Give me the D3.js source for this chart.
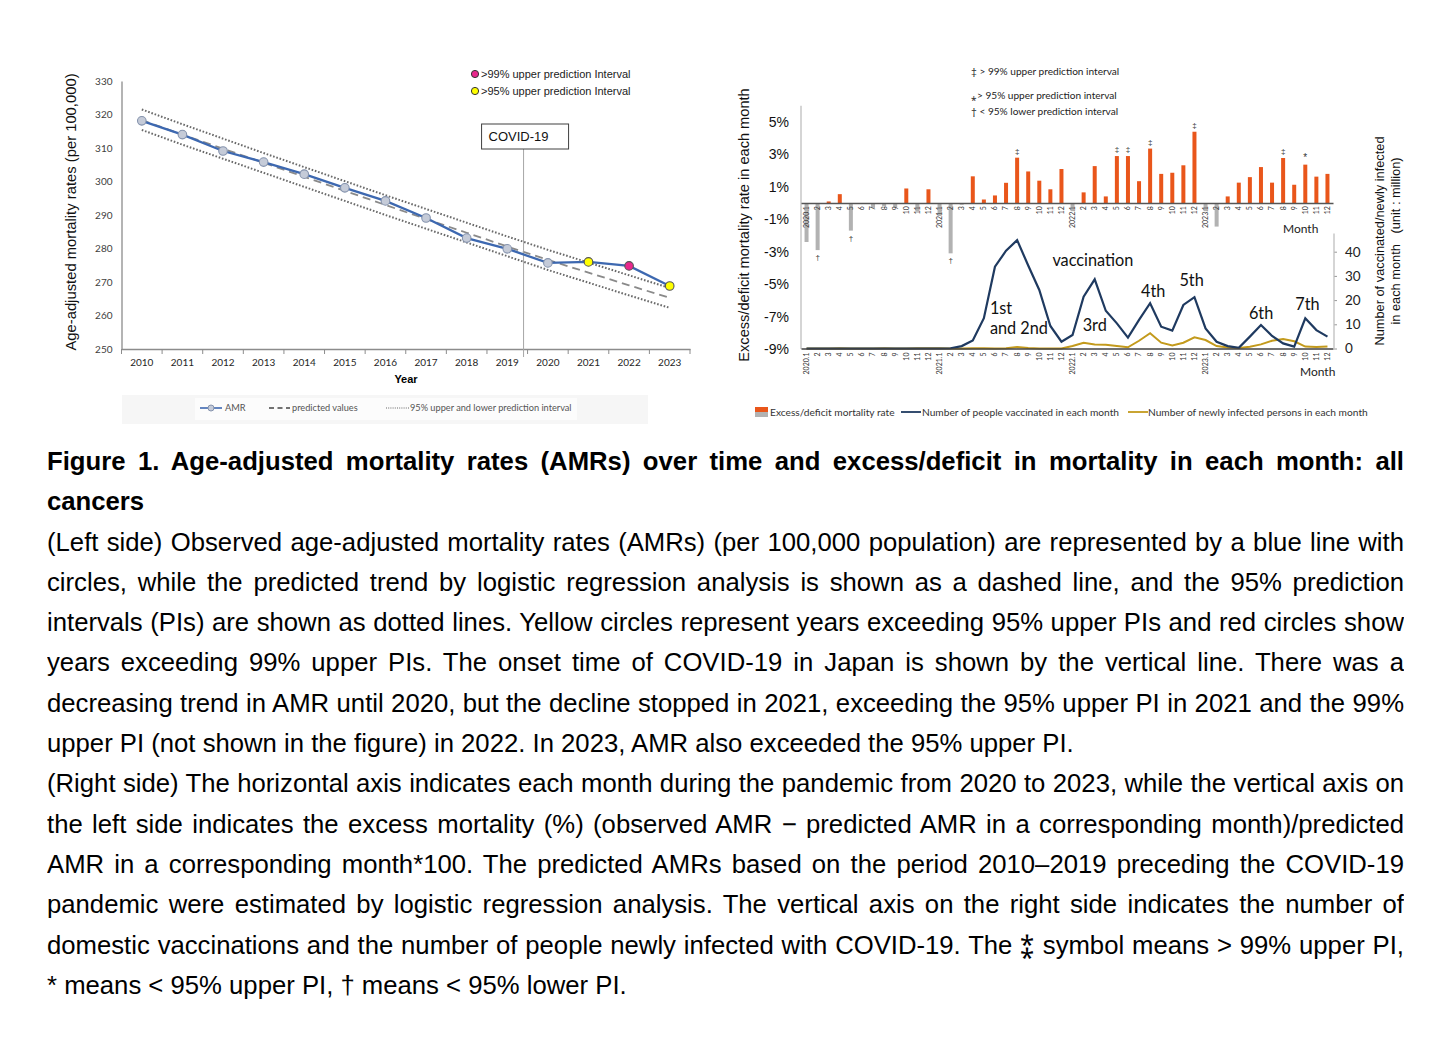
<!DOCTYPE html>
<html>
<head>
<meta charset="utf-8">
<script src="https://cdn.jsdelivr.net/npm/d3@7"></script>
<style>
body { margin: 0; background: #fff; width: 1456px; height: 1062px; overflow: hidden; position: relative; font-family: "Liberation Sans", Arial, sans-serif; }
#fig { position: absolute; left: 0; top: 0; }
#caption { position: absolute; left: 47px; top: 441px; width: 1357px; color: #000; }
#caption div { height: 40.3px; line-height: 40.3px; font-size: 25.7px; white-space: nowrap; overflow: hidden; }
#caption div.j { text-align: justify; text-align-last: justify; white-space: normal; }
#caption div.b { font-weight: bold; }
</style>
</head>
<body>
<div id="fig"></div>
<div id="caption"></div>
<script>
// ---------- left chart data ----------
const years = ['2010', '2011', '2012', '2013', '2014', '2015', '2016', '2017', '2018', '2019', '2020', '2021', '2022', '2023'];
const amr = [318.1, 314.0, 309.1, 305.8, 302.2, 298.1, 294.2, 289.1, 283.1, 279.9, 275.7, 276.0, 274.8, 268.8];
const amrFlag = ['', '', '', '', '', '', '', '', '', '', '', '95', '99', '95'];
const predicted = [318.3, 314.0, 309.8, 305.6, 301.4, 297.2, 293.0, 288.8, 284.7, 280.6, 276.6, 272.8, 269.0, 265.3];
const upperPI = [321.5, 317.1, 312.8, 308.5, 304.3, 300.1, 295.9, 291.8, 287.7, 283.6, 279.6, 275.8, 272.0, 268.2];
const lowerPI = [315.4, 311.0, 306.8, 302.6, 298.4, 294.2, 290.0, 285.9, 281.8, 277.7, 273.6, 269.8, 266.0, 262.3];
const amrTicks = [250, 260, 270, 280, 290, 300, 310, 320, 330];

// ---------- right chart data ----------
const calYears = ['2020', '2021', '2022', '2023'];
const monthNums = [1, 2, 3, 4, 5, 6, 7, 8, 9, 10, 11, 12];
const excess = [
  -2.4, -2.9, 0.1, 0.55, -1.7, -0.05, -0.3, -0.2, -0.3, 0.9, -0.5, 0.85,
  -0.8, -3.1, -0.1, 1.65, 0.22, 0.47, 1.25, 2.8, 1.95, 1.38, 0.85, 2.1,
  -0.5, 0.66, 2.28, 0.41, 2.9, 2.9, 1.35, 3.36, 1.8, 1.87, 2.33, 4.4,
  -0.5, -1.45, 0.41, 1.26, 1.6, 2.22, 1.26, 2.78, 1.13, 2.37, 1.63, 1.8
];
const vaccinated = [
  0, 0, 0, 0, 0, 0, 0, 0, 0, 0, 0, 0,
  0, 0.1, 1.0, 3.3, 12.5, 33.8, 40.4, 44.8, 34.3, 24.2, 9.3, 2.8,
  5.6, 21.4, 28.6, 15.6, 10.4, 4.5, 11.8, 18.7, 9.0, 7.4, 18.0, 21.2,
  8.3, 2.8, 1.0, 0.3, 4.9, 9.7, 5.2, 2.1, 0.8, 12.5, 7.6, 4.9
];
const infected = [
  0, 0, 0, 0.1, 0.05, 0, 0.05, 0.1, 0.05, 0.05, 0.1, 0.1,
  0.15, 0.05, 0.05, 0.1, 0.15, 0.05, 0.15, 0.6, 0.25, 0.02, 0.01, 0.02,
  1.0, 2.4, 1.7, 1.5, 1.0, 0.5, 3.2, 6.3, 2.4, 1.3, 2.4, 4.6,
  3.5, 1.0, 0.4, 0.2, 0.7, 1.7, 3.2, 3.9, 3.0, 0.8, 0.6, 0.8
];
const pctTicks = [5, 3, 1, -1, -3, -5, -7, -9];
const millionTicks = [0, 10, 20, 30, 40];
const marks = [
  { m: '2020.2', s: '†' }, { m: '2020.5', s: '†' }, { m: '2021.2', s: '†' },
  { m: '2021.8', s: '‡' }, { m: '2022.5', s: '‡' }, { m: '2022.6', s: '‡' },
  { m: '2022.8', s: '‡' }, { m: '2022.12', s: '‡' }, { m: '2023.8', s: '‡' },
  { m: '2023.10', s: '*' }
];
const doseLabels = [
  { t: 'vaccination', m: '2021.11', v: 36.6, dx: 2 },
  { t: '1st', m: '2021.5', v: 16.7, dx: 6 },
  { t: 'and 2nd', m: '2021.5', v: 8.5, dx: 6 },
  { t: '3rd', m: '2022.2', v: 9.7, dx: -1 },
  { t: '4th', m: '2022.7', v: 23.8, dx: 2 },
  { t: '5th', m: '2022.11', v: 28.3, dx: -4 },
  { t: '6th', m: '2023.5', v: 14.7, dx: -1 },
  { t: '7th', m: '2023.9', v: 18.4, dx: 1 }
];

const captionLines = [
  ['b j', 'Figure 1. Age-adjusted mortality rates (AMRs) over time and excess/deficit in mortality in each month: all'],
  ['b', 'cancers'],
  ['j', '(Left side) Observed age-adjusted mortality rates (AMRs) (per 100,000 population) are represented by a blue line with'],
  ['j', 'circles, while the predicted trend by logistic regression analysis is shown as a dashed line, and the 95% prediction'],
  ['j', 'intervals (PIs) are shown as dotted lines. Yellow circles represent years exceeding 95% upper PIs and red circles show'],
  ['j', 'years exceeding 99% upper PIs. The onset time of COVID-19 in Japan is shown by the vertical line. There was a'],
  ['j', 'decreasing trend in AMR until 2020, but the decline stopped in 2021, exceeding the 95% upper PI in 2021 and the 99%'],
  ['', 'upper PI (not shown in the figure) in 2022. In 2023, AMR also exceeded the 95% upper PI.'],
  ['j', '(Right side) The horizontal axis indicates each month during the pandemic from 2020 to 2023, while the vertical axis on'],
  ['j', 'the left side indicates the excess mortality (%) (observed AMR − predicted AMR in a corresponding month)/predicted'],
  ['j', 'AMR in a corresponding month*100. The predicted AMRs based on the period 2010–2019 preceding the COVID-19'],
  ['j', 'pandemic were estimated by logistic regression analysis. The vertical axis on the right side indicates the number of'],
  ['j', 'domestic vaccinations and the number of people newly infected with COVID-19. The ⁑ symbol means > 99% upper PI,'],
  ['', '* means < 95% upper PI, † means < 95% lower PI.']
];

const calibri = 'Lato, "Open Sans", sans-serif';
const arial = '"Liberation Sans", Arial, sans-serif';

const svg = d3.select('#fig').append('svg')
  .attr('width', 1456)
  .attr('height', 440);

// ================= LEFT CHART =================
const xL = d3.scaleBand().domain(years).range([121.5, 690]);
const yL = d3.scaleLinear().domain([250, 330]).range([349, 81]);
const cx = d => xL(d) + xL.bandwidth() / 2;

const gyL = svg.append('g')
  .attr('transform', 'translate(121.5,0)')
  .call(d3.axisLeft(yL).tickValues(amrTicks).tickSize(0).tickPadding(9));
gyL.select('.domain').attr('stroke', '#8c8c8c').attr('stroke-width', 1.3);
gyL.selectAll('text').attr('font-family', calibri).attr('font-size', 10).attr('fill', '#404040');

const gxL = svg.append('g')
  .attr('transform', 'translate(0,349)')
  .call(d3.axisBottom(xL).tickSize(0).tickPadding(10));
gxL.select('.domain').attr('stroke', '#8c8c8c').attr('stroke-width', 1.5);
gxL.selectAll('text').attr('font-family', calibri).attr('font-size', 10).attr('fill', '#262626');
// tick marks on band boundaries
gxL.selectAll('.bound')
  .data(years.concat(['end']))
  .enter().append('line')
  .attr('x1', d => d === 'end' ? xL.range()[1] : xL(d))
  .attr('x2', d => d === 'end' ? xL.range()[1] : xL(d))
  .attr('y1', 0).attr('y2', 5)
  .attr('stroke', '#8c8c8c');

// y title
svg.append('text')
  .attr('transform', 'translate(76,212) rotate(-90)')
  .attr('text-anchor', 'middle')
  .attr('font-family', arial).attr('font-size', 14.8).attr('fill', '#111')
  .text('Age-adjusted mortality rates (per 100,000)');
svg.append('text')
  .attr('x', 406).attr('y', 383)
  .attr('text-anchor', 'middle')
  .attr('font-family', arial).attr('font-weight', 'bold').attr('font-size', 11)
  .text('Year');

// prediction interval & predicted lines
const lineL = arr => d3.line().x((d, i) => cx(years[i])).y(d => yL(d))(arr);
[upperPI, lowerPI].forEach(arr => {
  svg.append('path').attr('d', lineL(arr))
    .attr('fill', 'none').attr('stroke', '#6a6a6a')
    .attr('stroke-width', 2).attr('stroke-dasharray', '1.6,1.8');
});
svg.append('path').attr('d', lineL(predicted))
  .attr('fill', 'none').attr('stroke', '#8a8a8a')
  .attr('stroke-width', 1.8).attr('stroke-dasharray', '8,5');

// COVID-19 marker
const covidX = xL('2020') - 4;
svg.append('line')
  .attr('x1', covidX).attr('x2', covidX)
  .attr('y1', 149).attr('y2', 357)
  .attr('stroke', '#a6a6a6').attr('stroke-width', 1);
svg.append('rect')
  .attr('x', covidX - 42).attr('y', 124).attr('width', 87).attr('height', 25)
  .attr('fill', '#fff').attr('stroke', '#404040').attr('stroke-width', 1);
svg.append('text')
  .attr('x', covidX - 35).attr('y', 141)
  .attr('font-family', arial).attr('font-size', 13).attr('fill', '#111')
  .text('COVID-19');

// AMR line and points
svg.append('path').attr('d', lineL(amr))
  .attr('fill', 'none').attr('stroke', '#3d68b0').attr('stroke-width', 2.3);
svg.selectAll('.amrpt')
  .data(amr)
  .enter().append('circle')
  .attr('cx', (d, i) => cx(years[i]))
  .attr('cy', d => yL(d))
  .attr('r', 4.3)
  .attr('fill', (d, i) => amrFlag[i] === '95' ? '#ffff00' : amrFlag[i] === '99' ? '#e8288c' : '#c5cbd8')
  .attr('stroke', (d, i) => amrFlag[i] ? '#555' : '#8593ad')
  .attr('stroke-width', 1.1);

// top legend
[['#e8288c', '>99% upper prediction Interval', 74], ['#ffff00', '>95% upper prediction Interval', 91]].forEach(l => {
  svg.append('circle').attr('cx', 475).attr('cy', l[2]).attr('r', 3.6)
    .attr('fill', l[0]).attr('stroke', '#333').attr('stroke-width', 1);
  svg.append('text').attr('x', 481).attr('y', l[2] + 3.8)
    .attr('font-family', arial).attr('font-size', 11).attr('fill', '#222')
    .text(l[1]);
});

// bottom legend
svg.append('rect').attr('x', 122).attr('y', 395).attr('width', 526).attr('height', 29).attr('fill', '#f6f6f6');
svg.append('rect').attr('x', 195).attr('y', 398).attr('width', 382).attr('height', 22).attr('fill', '#fcfcfc');
const legL = svg.append('g').attr('font-family', calibri).attr('font-size', 9.2).attr('fill', '#555');
legL.append('line').attr('x1', 200).attr('x2', 222).attr('y1', 408).attr('y2', 408).attr('stroke', '#3d68b0').attr('stroke-width', 1.6);
legL.append('circle').attr('cx', 211).attr('cy', 408).attr('r', 3).attr('fill', '#c5cbd8').attr('stroke', '#8593ad');
legL.append('text').attr('x', 225).attr('y', 411).text('AMR');
legL.append('line').attr('x1', 269).attr('x2', 290).attr('y1', 408).attr('y2', 408).attr('stroke', '#444').attr('stroke-width', 1.3).attr('stroke-dasharray', '5,3.5');
legL.append('text').attr('x', 292).attr('y', 411).text('predicted values');
legL.append('line').attr('x1', 386).attr('x2', 409).attr('y1', 408).attr('y2', 408).attr('stroke', '#666').attr('stroke-width', 1).attr('stroke-dasharray', '1,1.2');
legL.append('text').attr('x', 410).attr('y', 411).text('95% upper and lower prediction interval');

// ================= RIGHT CHART =================
const monthKeys = [];
calYears.forEach(y => monthNums.forEach(m => monthKeys.push(y + '.' + m)));
const monthLabel = k => k.endsWith('.1') && !k.endsWith('.11') && !k.endsWith('.10') ? k : k.split('.')[1];

const xR = d3.scaleBand().domain(monthKeys).range([801, 1333]);
const mx = k => xR(k) + xR.bandwidth() / 2;
const yR = d3.scaleLinear().domain([-9, 5]).range([349, 122]);
const y2 = d3.scaleLinear().domain([0, 40]).range([348.5, 251.7]);

// left % axis
const gyR = svg.append('g')
  .attr('transform', 'translate(801,0)')
  .call(d3.axisLeft(yR).tickValues(pctTicks).tickSize(0).tickPadding(12).tickFormat(d => d + '%'));
gyR.select('.domain').remove();
gyR.selectAll('text').attr('font-family', arial).attr('font-size', 14).attr('fill', '#111');
svg.append('line').attr('x1', 801).attr('x2', 801).attr('y1', yR(6)).attr('y2', yR(-9))
  .attr('stroke', '#bfbfbf').attr('stroke-width', 1.3);

svg.append('text')
  .attr('transform', 'translate(749,225) rotate(-90)')
  .attr('text-anchor', 'middle')
  .attr('font-family', arial).attr('font-size', 14.6).attr('fill', '#111')
  .text('Excess/deficit mortality rate in each month');

// bars
svg.selectAll('.bar')
  .data(excess)
  .enter().append('rect')
  .attr('x', (d, i) => mx(monthKeys[i]) - 2)
  .attr('width', 4)
  .attr('y', d => yR(Math.max(0, d)))
  .attr('height', d => Math.abs(yR(d) - yR(0)))
  .attr('fill', d => d >= 0 ? '#e9561b' : '#b2b2b2');

// zero baseline with month labels
const gx0 = svg.append('g')
  .attr('transform', 'translate(0,' + yR(0) + ')')
  .call(d3.axisBottom(xR).tickSize(0).tickFormat(monthLabel));
gx0.select('.domain').attr('stroke', '#555').attr('stroke-width', 1.6);
gx0.selectAll('text')
  .attr('transform', 'rotate(-90)')
  .attr('text-anchor', 'end')
  .attr('x', -3).attr('y', 0).attr('dy', '0.35em')
  .attr('font-family', calibri).attr('font-size', 7).attr('fill', '#333');

// significance marks
svg.selectAll('.mark')
  .data(marks)
  .enter().append('text')
  .attr('x', d => mx(d.m))
  .attr('y', d => {
    const v = excess[monthKeys.indexOf(d.m)];
    return d.s === '†' ? yR(v) + 10 : yR(v) - 4;
  })
  .attr('text-anchor', 'middle')
  .attr('font-family', arial).attr('font-size', d => d.s === '*' ? 10 : 8).attr('fill', '#333')
  .text(d => d.s);

svg.append('text').attr('x', 1283).attr('y', 233)
  .attr('font-family', calibri).attr('font-size', 12).attr('fill', '#222').text('Month');

// lower panel lines
const lineR = arr => d3.line().x((d, i) => mx(monthKeys[i])).y(d => y2(d))(arr);
svg.append('path').attr('d', lineR(infected))
  .attr('fill', 'none').attr('stroke', '#c39a1c').attr('stroke-width', 2);
svg.append('path').attr('d', lineR(vaccinated))
  .attr('fill', 'none').attr('stroke', '#1f3a60').attr('stroke-width', 2.2);

const gxB = svg.append('g')
  .attr('transform', 'translate(0,' + y2(0) + ')')
  .call(d3.axisBottom(xR).tickSize(0).tickFormat(monthLabel));
gxB.select('.domain').attr('stroke', '#404040').attr('stroke-width', 1.5);
gxB.selectAll('text')
  .attr('transform', 'rotate(-90)')
  .attr('text-anchor', 'end')
  .attr('x', -4).attr('y', 0).attr('dy', '0.35em')
  .attr('font-family', calibri).attr('font-size', 7).attr('fill', '#333');

svg.append('text').attr('x', 1300).attr('y', 376)
  .attr('font-family', calibri).attr('font-size', 12).attr('fill', '#222').text('Month');

// right axis
const gy2 = svg.append('g')
  .attr('transform', 'translate(1334,0)')
  .call(d3.axisRight(y2).tickValues(millionTicks).tickSize(3).tickPadding(8));
gy2.select('.domain').remove();
gy2.selectAll('line').attr('stroke', '#999');
gy2.selectAll('text').attr('font-family', calibri).attr('font-size', 13.5).attr('fill', '#222');
svg.append('line').attr('x1', 1334).attr('x2', 1334).attr('y1', y2(47.5)).attr('y2', y2(0))
  .attr('stroke', '#bfbfbf').attr('stroke-width', 1.3);

svg.append('text')
  .attr('transform', 'translate(1384,241) rotate(-90)')
  .attr('text-anchor', 'middle')
  .attr('font-family', arial).attr('font-size', 12.8).attr('fill', '#111')
  .text('Number of vaccinated/newly infected');
svg.append('text')
  .attr('transform', 'translate(1400,241) rotate(-90)')
  .attr('text-anchor', 'middle')
  .attr('font-family', arial).attr('font-size', 12.8).attr('fill', '#111')
  .attr('xml:space', 'preserve')
  .text('in each month   (unit : million)');

// dose annotations
svg.selectAll('.dose')
  .data(doseLabels)
  .enter().append('text')
  .attr('x', d => xR(d.m) + xR.bandwidth() / 2 + d.dx)
  .attr('y', d => y2(d.v))
  .attr('dy', '0.35em')
  .attr('font-family', calibri).attr('font-size', 16.3).attr('fill', '#111')
  .text(d => d.t);

// top-right significance legend
const legS = svg.append('g').attr('font-family', calibri).attr('font-size', 10.1).attr('fill', '#222');
legS.append('text').attr('x', 971).attr('y', 75).text('‡ > 99% upper prediction interval');
legS.append('text').attr('x', 971).attr('y', 99).text('⁎> 95% upper prediction interval');
legS.append('text').attr('x', 971).attr('y', 115).text('† < 95% lower prediction interval');

// bottom legend right
const legR = svg.append('g').attr('font-family', calibri).attr('font-size', 10.2).attr('fill', '#333');
legR.append('rect').attr('x', 755).attr('y', 407).attr('width', 13).attr('height', 5).attr('fill', '#e9561b');
legR.append('rect').attr('x', 755).attr('y', 412).attr('width', 13).attr('height', 5).attr('fill', '#b2b2b2');
legR.append('text').attr('x', 770).attr('y', 415.5).text('Excess/deficit mortality rate');
legR.append('line').attr('x1', 901).attr('x2', 921).attr('y1', 412).attr('y2', 412).attr('stroke', '#1f3a60').attr('stroke-width', 1.8);
legR.append('text').attr('x', 922).attr('y', 415.5).text('Number of people vaccinated in each month');
legR.append('line').attr('x1', 1128).attr('x2', 1148).attr('y1', 412).attr('y2', 412).attr('stroke', '#c39a1c').attr('stroke-width', 1.8);
legR.append('text').attr('x', 1148).attr('y', 415.5).text('Number of newly infected persons in each month');

// ================= CAPTION =================
d3.select('#caption').selectAll('div')
  .data(captionLines)
  .enter().append('div')
  .attr('class', d => d[0])
  .text(d => d[1]);
</script>
</body>
</html>
